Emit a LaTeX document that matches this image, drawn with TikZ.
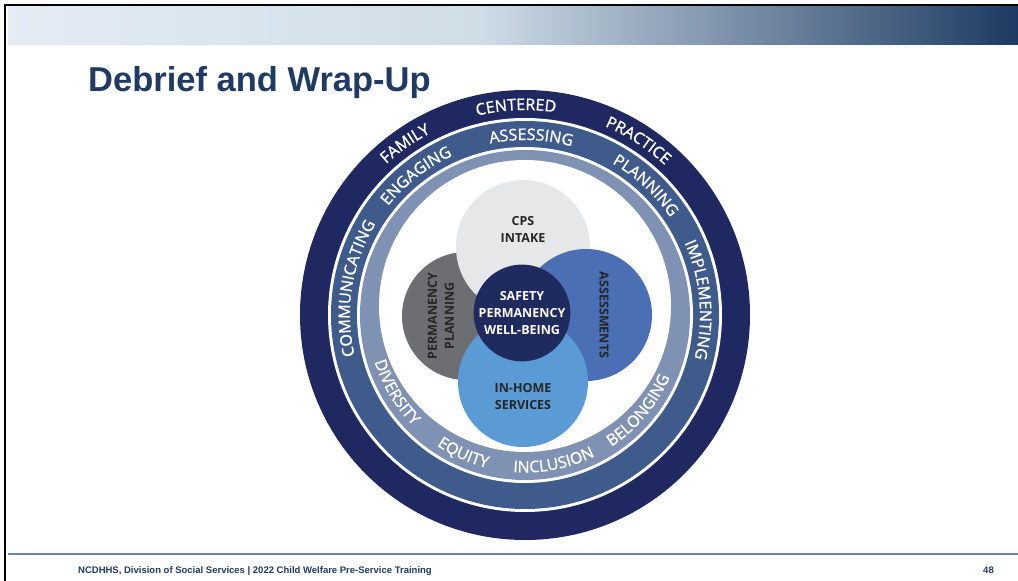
\documentclass[tikz,border=0pt]{standalone}
\usepackage{fontspec}
\setmainfont{Liberation Sans}
\newfontfamily\circlefont{Open Sans}
\newfontfamily\ringfont[FakeBold=1.2]{Open Sans}
\usetikzlibrary{calc, positioning, decorations.text}
\definecolor{navyring}{HTML}{1F2861}
\definecolor{midring}{HTML}{3F5B8C}
\definecolor{slatering}{HTML}{8092B3}
\definecolor{intakegray}{HTML}{E6E7E8}
\definecolor{permgray}{HTML}{6D6E71}
\definecolor{assessblue}{HTML}{4A6FB5}
\definecolor{homeblue}{HTML}{5B9BD5}
\definecolor{corenavy}{HTML}{1F2A5E}
\definecolor{titleblue}{HTML}{1F3A63}
\definecolor{barlight}{HTML}{E4ECF4}
\definecolor{barmid}{HTML}{CFDDE7}
\definecolor{bardark}{HTML}{1E3A62}
\definecolor{footline}{HTML}{6E82A2}
\newcommand{\ringstyle}{\color{white}\ringfont\fontsize{16}{16}\selectfont}

\tikzset{
  venn/.style={circle, inner sep=0pt, minimum size=#1},
  vennlbl/.style={font=\circlefont\bfseries\fontsize{12.5}{17}\selectfont, align=center, text=black!85},
  ringword/.style={decorate, decoration={text along path, text align=center,
    text/.expanded={|\noexpand\ringstyle|#1}}}
}

\begin{document}
\begin{tikzpicture}[x=1pt, y=1pt]
  \useasboundingbox (0,0) rectangle (1018,581);

  % Header bar and frame
  \shade[left color=barlight, right color=barmid] (8,536) rectangle (480,574);
  \shade[left color=barmid, right color=bardark] (479.5,536) rectangle (1018,574);
  \draw[line width=2.5pt] (5,0) -- (5,576) -- (1018,576);

  % Title
  \node[anchor=base west, inner sep=0, text=titleblue,
        font=\bfseries\fontsize{34.5}{34.5}\selectfont] (title) at (88,489) {Debrief and Wrap-Up};

  % Footer
  \draw[footline, line width=1.5pt] (8,27) -- (1018,27);
  \node[anchor=base west, inner sep=0, text=titleblue, font=\bfseries\fontsize{9.5}{9.5}\selectfont]
    (footer) at (78,7.5) {NCDHHS, Division of Social Services | 2022 Child Welfare Pre-Service Training};
  \node[anchor=base east, inner sep=0, text=titleblue, font=\bfseries\fontsize{9.5}{9.5}\selectfont]
    (page) at (994,7.5) {48};

  % Rings
  \coordinate (C) at (525,266);
  \fill[navyring] (C) circle[radius=225pt];
  \fill[white] (C) circle[radius=197pt];
  \fill[midring] (C) circle[radius=194pt];
  \fill[white] (C) circle[radius=168pt];
  \fill[slatering] (C) circle[radius=165pt];
  \fill[white] (525,275) circle[radius=146pt];

  % Words on the rings
  \foreach \ang/\word in {125/FAMILY, 92.5/CENTERED, 57/PRACTICE}
    \path[ringword=\word] ($(C)+(\ang+35:205pt)$) arc[start angle=\ang+35, end angle=\ang-35, radius=205pt];
  \foreach \ang/\word in {171/COMMUNICATING, 128/ENGAGING, 88/ASSESSING, 47/PLANNING, 5/IMPLEMENTING}
    \path[ringword=\word] ($(C)+(\ang+35:175pt)$) arc[start angle=\ang+35, end angle=\ang-35, radius=175pt];
  \foreach \ang/\word in {211/DIVERSITY, 246/EQUITY, 281/INCLUSION, 320/BELONGING}
    \path[ringword=\word] ($(C)+(\ang-35:157.5pt)$) arc[start angle=\ang-35, end angle=\ang+35, radius=157.5pt];

  % Venn circles
  \node[venn=128pt, fill=permgray] (perm) at (466,265) {};
  \node[venn=134pt, fill=intakegray] (cps) at (523,334) {};
  \node[venn=132pt, fill=assessblue] (assess) at (586,266) {};
  \node[venn=130pt, fill=homeblue] (home) at (523,199) {};
  \node[venn=96pt, fill=corenavy, vennlbl, text=white] (core) at (522,268) {SAFETY\\PERMANENCY\\WELL-BEING};

  % Circle labels
  \node[vennlbl] (cpslbl) at ([yshift=18pt]cps.center) {CPS\\INTAKE};
  \node[vennlbl, rotate=90] (permlbl) at ([xshift=-25pt]perm.center) {PERMANENCY\\PLANNING};
  \node[vennlbl, rotate=-90] (assesslbl) at ([xshift=18pt]assess.center) {ASSESSMENTS};
  \node[vennlbl] (homelbl) at ([yshift=-15pt]home.center) {IN-HOME\\SERVICES};
\end{tikzpicture}
\end{document}
